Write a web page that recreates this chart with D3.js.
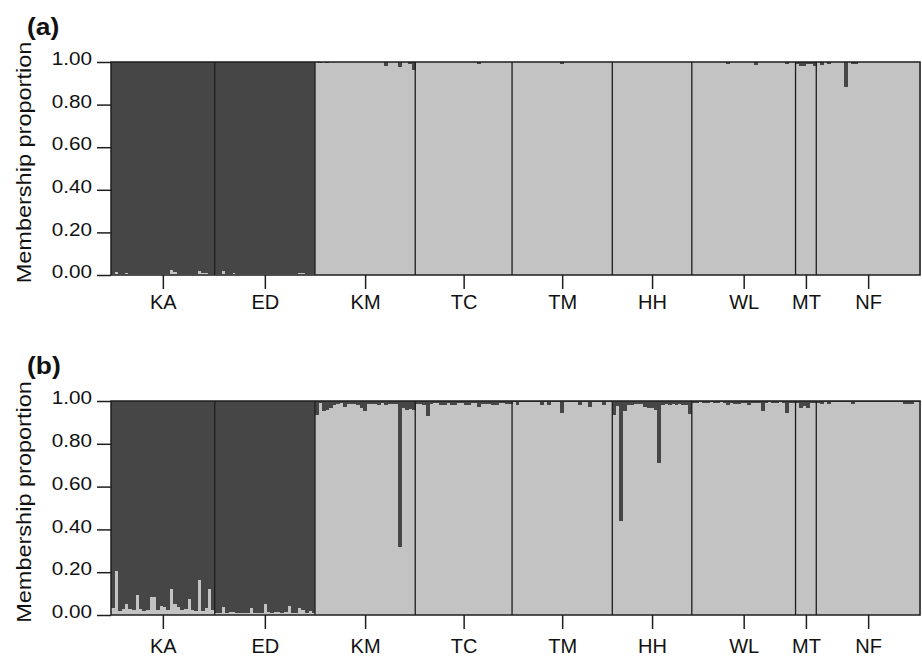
<!DOCTYPE html>
<html>
<head>
<meta charset="utf-8">
<script src="https://cdn.jsdelivr.net/npm/d3@7"></script>
<style>
  body { margin: 0; background: #fff; }
  svg text { font-family: "Liberation Sans", Arial, Helvetica, sans-serif; fill: #111; }
</style>
</head>
<body>
<div id="chart"></div>
<script>
// population labels and number of individuals in each
var popNames = ["KA", "ED", "KM", "TC", "TM", "HH", "WL", "MT", "NF"];
var popSizes = [30, 29, 29, 28, 29, 23, 30, 6, 30];

var yTicks = [0, 0.2, 0.4, 0.6, 0.8, 1.0];

// membership in the dark cluster, one value per individual (panel a)
var a_KA = [0.996,0.985,0.996,0.997,0.992,0.997,0.996,0.994,0.994,0.997,0.994,0.997,0.994,0.997,0.996,0.997,0.996,0.977,0.988,0.996,0.997,0.994,0.994,0.997,0.996,0.982,0.992,0.992,0.997,0.996];
var a_ED = [0.997,0.996,0.982,0.997,0.996,0.992,0.997,0.997,0.996,0.997,0.997,0.997,0.996,0.997,0.997,0.997,0.995,0.997,0.997,0.996,0.995,0.997,0.997,0.997,0.992,0.992,0.997,0.997,0.997];
var a_KM = [0.002,0.007,0.002,0.007,0.002,0.002,0.002,0.002,0.002,0.002,0.002,0.002,0.002,0.002,0.002,0.002,0.002,0.002,0.002,0.002,0.017,0.002,0.002,0.002,0.022,0.002,0.002,0.010,0.036];
var a_TC = [0.002,0.002,0.002,0.002,0.002,0.002,0.002,0.002,0.002,0.002,0.002,0.002,0.002,0.002,0.002,0.002,0.002,0.002,0.008,0.002,0.002,0.002,0.002,0.002,0.002,0.002,0.002,0.002];
var a_TM = [0.002,0.002,0.002,0.002,0.002,0.002,0.002,0.002,0.002,0.002,0.002,0.002,0.002,0.002,0.008,0.002,0.002,0.002,0.002,0.002,0.002,0.002,0.002,0.002,0.002,0.002,0.002,0.002,0.002];
var a_HH = [0.001,0.001,0.001,0.001,0.001,0.001,0.001,0.001,0.001,0.001,0.001,0.001,0.001,0.001,0.001,0.001,0.001,0.001,0.001,0.001,0.001,0.001,0.001];
var a_WL = [0.002,0.002,0.002,0.002,0.002,0.002,0.002,0.002,0.002,0.002,0.008,0.002,0.002,0.002,0.002,0.002,0.002,0.002,0.014,0.002,0.002,0.002,0.002,0.002,0.002,0.002,0.002,0.008,0.002,0.002];
var a_MT = [0.008,0.017,0.017,0.010,0.010,0.017];
var a_NF = [0.002,0.014,0.002,0.010,0.002,0.002,0.002,0.002,0.117,0.002,0.010,0.010,0.002,0.002,0.002,0.002,0.002,0.002,0.002,0.002,0.002,0.002,0.002,0.002,0.002,0.002,0.002,0.002,0.002,0.002];

// membership in the dark cluster (panel b)
var b_KA = [0.966,0.794,0.980,0.970,0.950,0.970,0.975,0.907,0.972,0.980,0.975,0.916,0.916,0.977,0.957,0.961,0.978,0.877,0.949,0.963,0.977,0.970,0.925,0.977,0.980,0.836,0.980,0.966,0.877,0.977];
var b_ED = [0.990,0.990,0.963,0.992,0.986,0.986,0.992,0.992,0.992,0.992,0.967,0.992,0.992,0.992,0.950,0.988,0.992,0.986,0.986,0.992,0.986,0.958,0.992,0.992,0.967,0.977,0.990,0.981,0.990];
var b_KM = [0.065,0.010,0.047,0.042,0.033,0.020,0.016,0.011,0.026,0.016,0.014,0.014,0.019,0.033,0.045,0.012,0.016,0.014,0.019,0.011,0.018,0.014,0.014,0.014,0.680,0.033,0.042,0.036,0.042];
var b_TC = [0.015,0.015,0.020,0.068,0.015,0.011,0.011,0.019,0.019,0.011,0.020,0.020,0.011,0.011,0.019,0.019,0.011,0.011,0.026,0.014,0.014,0.014,0.019,0.019,0.011,0.011,0.014,0.014];
var b_TM = [0.007,0.017,0.007,0.007,0.007,0.007,0.007,0.007,0.017,0.007,0.017,0.007,0.007,0.007,0.055,0.007,0.007,0.007,0.007,0.017,0.007,0.007,0.028,0.007,0.007,0.007,0.017,0.007,0.007];
var b_HH = [0.065,0.023,0.560,0.045,0.019,0.019,0.014,0.014,0.014,0.030,0.034,0.034,0.042,0.290,0.017,0.015,0.017,0.015,0.017,0.015,0.017,0.017,0.060];
var b_WL = [0.008,0.008,0.006,0.008,0.008,0.006,0.008,0.008,0.006,0.008,0.020,0.008,0.016,0.016,0.008,0.008,0.017,0.008,0.008,0.008,0.045,0.008,0.006,0.008,0.008,0.006,0.008,0.058,0.008,0.008];
var b_MT = [0.010,0.034,0.022,0.034,0.010,0.010];
var b_NF = [0.008,0.016,0.005,0.016,0.005,0.005,0.006,0.005,0.005,0.006,0.012,0.005,0.005,0.006,0.005,0.005,0.006,0.005,0.005,0.006,0.005,0.005,0.006,0.005,0.005,0.016,0.016,0.016,0.005,0.006];

var panelA = [a_KA, a_ED, a_KM, a_TC, a_TM, a_HH, a_WL, a_MT, a_NF];
var panelB = [b_KA, b_ED, b_KM, b_TC, b_TM, b_HH, b_WL, b_MT, b_NF];

var width = 922;
var height = 659;
var darkColor = "#464646";
var lightColor = "#c2c3c2";

// plot area left/right
var plotLeft = 111;
var plotRight = 920;

var svg = d3.select("#chart")
    .append("svg")
    .attr("width", width)
    .attr("height", height);

svg.append("rect").attr("width", width).attr("height", height).attr("fill", "#fff");

// start index of every population
var starts = [];
var total = 0;
popSizes.forEach(function(n) {
    starts.push(total);
    total += n;
});

var xScale = d3.scaleBand()
    .domain(d3.range(total))
    .range([plotLeft, plotRight])
    .padding(0);

// population centres for the label axis
var popScale = d3.scaleOrdinal()
    .domain(popNames)
    .range(popNames.map(function(p, i) {
        var x0 = xScale(starts[i]);
        var x1 = xScale(starts[i] + popSizes[i] - 1) + xScale.bandwidth();
        return (x0 + x1) / 2;
    }));

function drawPanel(groups, top, bottom, letter, labelPad) {
    var g = svg.append("g");

    // flatten into individuals
    var inds = [];
    groups.forEach(function(arr, gi) {
        arr.forEach(function(q, k) {
            inds.push({ i: starts[gi] + k, q1: q });
        });
    });

    var yScale = d3.scaleLinear().domain([0, 1]).range([bottom, top]);

    // light cluster at the bottom
    g.selectAll(".light")
        .data(inds)
        .enter()
        .append("rect")
        .attr("x", function(d) { return xScale(d.i); })
        .attr("width", xScale.bandwidth() + 0.5)
        .attr("y", function(d) { return yScale(1 - d.q1); })
        .attr("height", function(d) { return yScale(0) - yScale(1 - d.q1); })
        .attr("fill", lightColor)
        .attr("shape-rendering", "crispEdges");

    // dark cluster stacked on top
    g.selectAll(".dark")
        .data(inds)
        .enter()
        .append("rect")
        .attr("x", function(d) { return xScale(d.i); })
        .attr("width", xScale.bandwidth() + 0.5)
        .attr("y", yScale(1))
        .attr("height", function(d) { return yScale(1 - d.q1) - yScale(1); })
        .attr("fill", darkColor)
        .attr("shape-rendering", "crispEdges");

    // lines between populations
    g.selectAll(".sep")
        .data(starts.slice(1))
        .enter()
        .append("line")
        .attr("x1", function(d) { return xScale(d); })
        .attr("x2", function(d) { return xScale(d); })
        .attr("y1", top)
        .attr("y2", bottom)
        .attr("stroke", "#1e1e1e")
        .attr("stroke-width", 1.3);

    // frame
    g.append("rect")
        .attr("x", plotLeft)
        .attr("y", top)
        .attr("width", plotRight - plotLeft)
        .attr("height", bottom - top)
        .attr("fill", "none")
        .attr("stroke", "#1e1e1e")
        .attr("stroke-width", 1.5);

    // y axis
    var yAxis = d3.axisLeft(yScale)
        .tickValues(yTicks)
        .tickFormat(d3.format(".2f"))
        .tickSize(14)
        .tickSizeOuter(0);

    var ya = g.append("g")
        .attr("transform", "translate(" + plotLeft + ",0)")
        .call(yAxis);
    ya.select(".domain").remove();
    ya.selectAll(".tick line").attr("stroke", "#1e1e1e").attr("stroke-width", 1.5);
    ya.selectAll(".tick text")
        .attr("x", 0)
        .attr("dy", "0.15em")
        .attr("transform", "translate(-19,0) scale(1.15,1)")
        .attr("font-size", 18)
        .attr("font-family", null)
        .attr("fill", "#111");

    // x axis with population names
    var xAxis = d3.axisBottom(popScale)
        .tickSize(14)
        .tickPadding(labelPad);

    var xa = g.append("g")
        .attr("transform", "translate(0," + bottom + ")")
        .call(xAxis);
    xa.select(".domain").remove();
    xa.selectAll(".tick line").attr("stroke", "#1e1e1e").attr("stroke-width", 1.5);
    xa.selectAll(".tick text")
        .attr("font-size", 20)
        .attr("font-family", null)
        .attr("fill", "#111");

    // y label
    svg.append("text")
        .attr("transform", "translate(31," + ((top + bottom) / 2 - 6) + ") rotate(-90) scale(1.12,1)")
        .attr("text-anchor", "middle")
        .attr("font-size", 21)
        .text("Membership proportion");

    // panel letter
    svg.append("text")
        .attr("transform", "translate(27," + (top - 27) + ") scale(1.1,1)")
        .attr("font-size", 24)
        .attr("font-weight", "bold")
        .text(letter);
}

drawPanel(panelA, 62, 275, "(a)", 6);
drawPanel(panelB, 401, 615, "(b)", 10);
</script>
</body>
</html>
